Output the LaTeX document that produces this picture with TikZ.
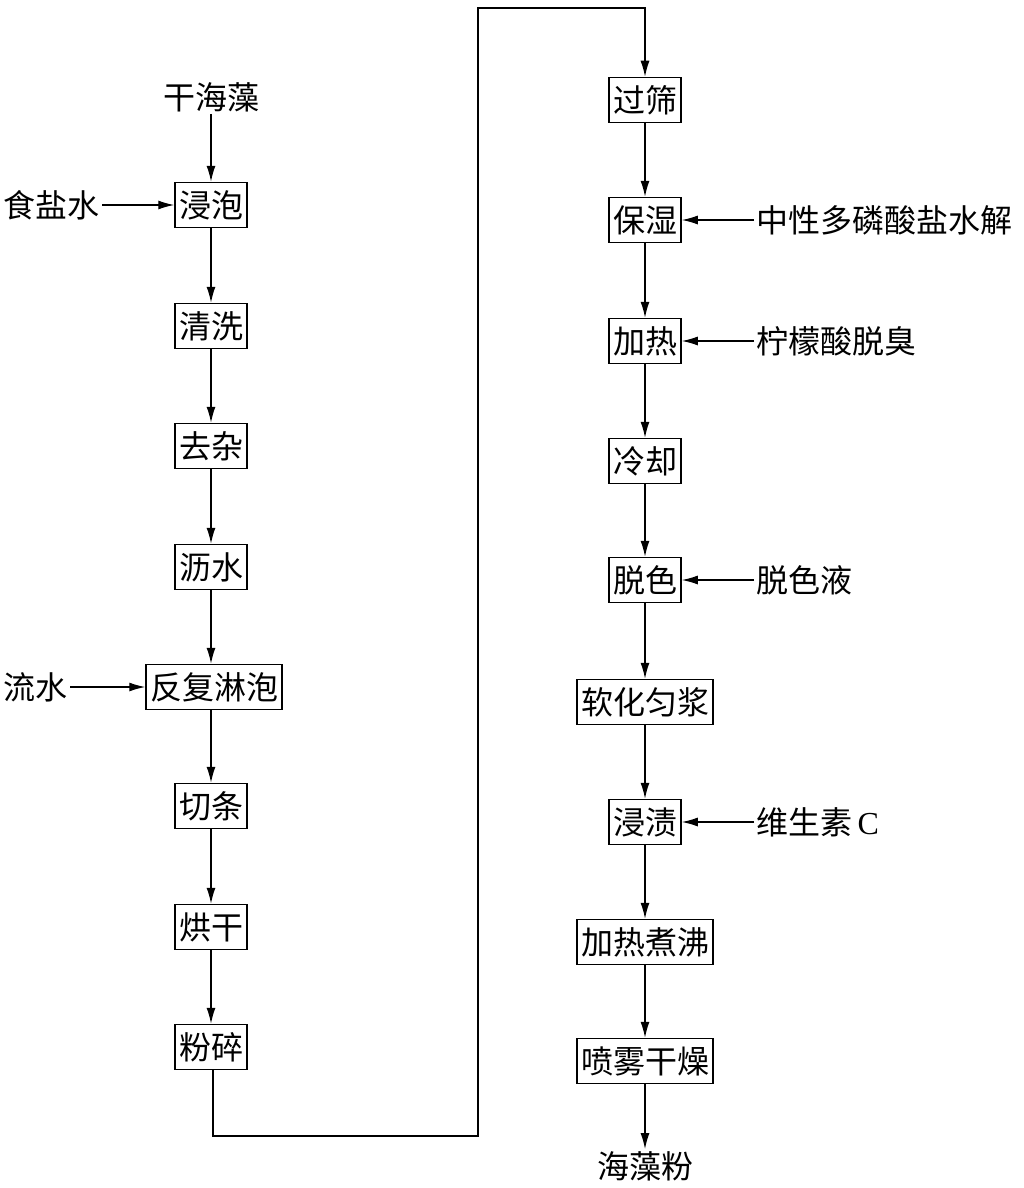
\documentclass[tikz,border=0pt]{standalone}
\usepackage{fontspec}
\newfontfamily\cjk{Noto Sans CJK SC}
\usetikzlibrary{arrows.meta}
\begin{document}
\begin{tikzpicture}[x=1pt,y=-1pt,
  every node/.style={font=\cjk\fontsize{32}{33}\selectfont},
  box/.style={draw,line width=1.5pt,inner sep=4pt,minimum height=45pt},
  lbl/.style={inner sep=2pt},
  arr/.style={line width=1.3pt,-{Latex[length=16pt,width=9pt]}},
  ln/.style={line width=1.3pt}]
\useasboundingbox (0,0) rectangle (1024,1188);
% left column
\node[lbl] (gh) at (211,97) {干海藻};
\node[box] (jp) at (211,205) {浸泡};
\node[box] (qx) at (211,326) {清洗};
\node[box] (qz) at (211,446) {去杂};
\node[box] (ls) at (211,567) {沥水};
\node[box] (ff) at (214,687) {反复淋泡};
\node[box] (qt) at (211,806) {切条};
\node[box] (hg) at (211,927) {烘干};
\node[box] (fs) at (211,1047) {粉碎};
\node[lbl,anchor=east] (ysw) at (102,205) {食盐水};
\node[lbl,anchor=east] (lsh) at (70,687) {流水};
% right column
\node[box] (gs) at (645,100) {过筛};
\node[box] (bs) at (645,220) {保湿};
\node[box] (jr) at (645,341) {加热};
\node[box] (lq) at (645,461) {冷却};
\node[box] (ts) at (645,580) {脱色};
\node[box] (rh) at (645,702) {软化匀浆};
\node[box] (jz) at (645,822) {浸渍};
\node[box] (jf) at (645,942) {加热煮沸};
\node[box] (pw) at (645,1061) {喷雾干燥};
\node[lbl] (hzf) at (645,1166) {海藻粉};
\node[lbl,anchor=west] (zx) at (754,220) {中性多磷酸盐水解};
\node[lbl,anchor=west] (nm) at (754,341) {柠檬酸脱臭};
\node[lbl,anchor=west] (tsy) at (754,580) {脱色液};
\node[lbl,anchor=west] (wss) at (754,822) {维生素\,{\fontspec{Liberation Serif}C}};
% left arrows
\draw[arr] (gh) -- (jp);
\draw[arr] (jp) -- (qx);
\draw[arr] (qx) -- (qz);
\draw[arr] (qz) -- (ls);
\draw[arr] (ls.south) -- (ls.south |- ff.north);
\draw[arr] (ff.south -| qt.north) -- (qt.north);
\draw[arr] (qt) -- (hg);
\draw[arr] (hg) -- (fs);
\draw[arr] (ysw) -- (jp);
\draw[arr] (lsh) -- (ff);
% connector
\coordinate (c1) at (213,1136);
\coordinate (c2) at (478,1136);
\coordinate (c3) at (478,8);
\draw[arr] (fs.south -| c1) -- (c1) -- (c2) -- (c3) -| (gs.north);
% right arrows
\draw[arr] (gs) -- (bs);
\draw[arr] (bs) -- (jr);
\draw[arr] (jr) -- (lq);
\draw[arr] (lq) -- (ts);
\draw[arr] (ts) -- (rh);
\draw[arr] (rh) -- (jz);
\draw[arr] (jz) -- (jf);
\draw[arr] (jf) -- (pw);
\draw[arr] (pw) -- (hzf);
\draw[arr] (zx) -- (bs);
\draw[arr] (nm) -- (jr);
\draw[arr] (tsy) -- (ts);
\draw[arr] (wss) -- (jz);
\end{tikzpicture}
\end{document}
